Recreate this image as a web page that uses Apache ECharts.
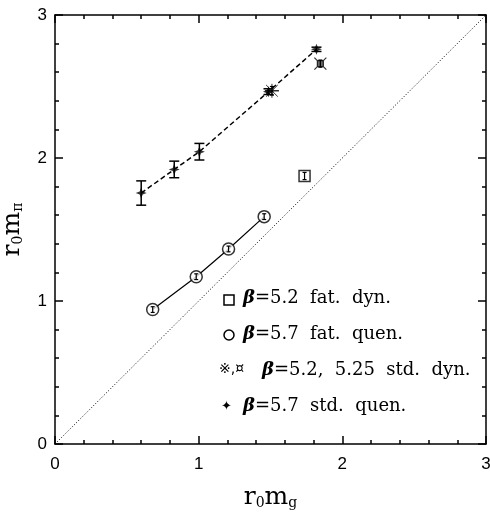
<!DOCTYPE html>
<html>
<head>
<meta charset="utf-8">
<script src="https://cdn.jsdelivr.net/npm/echarts@6/dist/echarts.min.js"></script>
<style>
html,body{margin:0;padding:0;background:#fff;}
#main{width:490px;height:514px;}
</style>
</head>
<body>
<div id="main"></div>
<script>
// beta=5.7 standard quenched (plus markers, dashed line)
var stdQuenX = [0.60, 0.83, 1.005, 1.486, 1.82];
var stdQuenY = [1.755, 1.92, 2.044, 2.464, 2.76];
var stdQuenErr = [0.085, 0.058, 0.058, 0.02, 0.015];
// beta=5.2 / 5.25 standard dynamical
var stdDyn52 = [[1.51, 2.47, 0.03]];
var stdDyn525 = [[1.847, 2.66, 0.025]];
// beta=5.2 fat dynamical
var fatDyn = [[1.737, 1.874, 0.025]];
// beta=5.7 fat quenched
var fatQuenX = [0.68, 0.983, 1.208, 1.456];
var fatQuenY = [0.94, 1.17, 1.364, 1.59];
var fatQuenErr = [0.02, 0.02, 0.02, 0.02];
// diagonal y = x
var diag = [[0, 0], [3, 3]];
var tickVals = [0, 1, 2, 3];

function zip(xs, ys, es) {
	var out = [];
	for (var i = 0; i < xs.length; i++) out.push(es ? [xs[i], ys[i], es[i]] : [xs[i], ys[i]]);
	return out;
}

// I-beam error bars
function makeErr(w, lw) {
	return function (params, api) {
		var x = api.value(0), y = api.value(1), e = api.value(2);
		var t = api.coord([x, y + e]), b = api.coord([x, y - e]);
		var st = { stroke: '#000', lineWidth: lw };
		return {
			type: 'group',
			children: [
				{ type: 'line', shape: { x1: t[0], y1: t[1], x2: b[0], y2: b[1] }, style: st },
				{ type: 'line', shape: { x1: t[0] - w, y1: t[1], x2: t[0] + w, y2: t[1] }, style: st },
				{ type: 'line', shape: { x1: b[0] - w, y1: b[1], x2: b[0] + w, y2: b[1] }, style: st }
			]
		};
	};
}

var serif = '"DejaVu Serif", "Liberation Serif", serif';
var nameRich = {
	r: { fontSize: 25, fontFamily: serif, color: '#000' },
	s: { fontSize: 14, fontFamily: serif, color: '#000', padding: [12, 0, 0, 0] }
};

var axisCommon = {
	min: 0, max: 3, interval: 1,
	axisLine: { show: true, onZero: false, lineStyle: { color: '#000', width: 1.5 } },
	axisTick: { show: true, inside: true, length: 8, lineStyle: { color: '#000', width: 1.5 } },
	minorTick: { show: true, splitNumber: 5, length: 4, lineStyle: { color: '#000', width: 1.5 } },
	splitLine: { show: false },
	axisLabel: {
		color: '#000', fontSize: 17, fontFamily: '"Liberation Sans", Arial, sans-serif',
		formatter: function (v) { return tickVals.indexOf(v) >= 0 ? String(v) : ''; }
	}
};
function ax(extra) { return Object.assign({}, JSON.parse(JSON.stringify(axisCommon)), { axisLabel: axisCommon.axisLabel }, extra); }

function legendText(x, y, label) {
	return {
		type: 'text', left: x, top: y,
		style: {
			text: '{b|β}{t|' + label + '}',
			rich: {
				b: { fontSize: 18, fontFamily: serif, fontWeight: 'bold', fontStyle: 'italic', color: '#000' },
				t: { fontSize: 18, fontFamily: serif, color: '#000' }
			}
		}
	};
}

var chart = echarts.init(document.getElementById('main'));
chart.setOption({
	backgroundColor: '#fff',
	animation: false,
	grid: { left: 55, right: 4, top: 15, bottom: 70, outerBoundsMode: 'none', containLabel: false },
	xAxis: [
		ax({ type: 'value', position: 'bottom', name: '{r|r}{s|0}{r|m}{s|g}', nameLocation: 'middle', nameGap: 40,
			nameTextStyle: { rich: nameRich }, axisLabel: Object.assign({}, axisCommon.axisLabel, { margin: 12 }) }),
		ax({ type: 'value', position: 'top', axisLabel: { show: false } })
	],
	yAxis: [
		ax({ type: 'value', position: 'left', name: '{r|r}{s|0}{r|m}{s|π}', nameLocation: 'middle', nameGap: 30, nameRotate: 90,
			nameTextStyle: { rich: nameRich }, axisLabel: Object.assign({}, axisCommon.axisLabel, { margin: 8 }) }),
		ax({ type: 'value', position: 'right', axisLabel: { show: false } })
	],
	graphic: [
		{ type: 'rect', shape: { x: 224, y: 295, width: 10, height: 10 }, style: { fill: '#fff', stroke: '#000', lineWidth: 1.5 } },
		legendText(243, 289, '=5.2  fat.  dyn.'),
		{ type: 'circle', shape: { cx: 229, cy: 335, r: 5 }, style: { fill: '#fff', stroke: '#000', lineWidth: 1.5 } },
		legendText(243, 325, '=5.7  fat.  quen.'),
		{ type: 'text', left: 219, top: 362, style: { text: '※,¤', fontSize: 14, fontFamily: '"DejaVu Sans"', fill: '#000' } },
		legendText(262, 361, '=5.2,  5.25  std.  dyn.'),
		{ type: 'text', left: 221, top: 400, style: { text: '✦', fontSize: 13, fontFamily: '"DejaVu Sans"', fill: '#000' } },
		legendText(243, 397, '=5.7  std.  quen.')
	],
	series: [
		{
			type: 'line', data: diag, symbol: 'none', silent: true,
			lineStyle: { color: '#000', width: 1, type: [1, 2] }, z: 1
		},
		{
			type: 'line', data: zip(stdQuenX, stdQuenY), symbol: 'none',
			lineStyle: { color: '#000', width: 1.5, type: [5, 3] }, z: 2
		},
		{
			type: 'line', data: zip(fatQuenX, fatQuenY), symbol: 'none',
			lineStyle: { color: '#000', width: 1.2 }, z: 2
		},
		{
			type: 'scatter', data: zip(fatQuenX, fatQuenY), symbol: 'circle', symbolSize: 12,
			itemStyle: { color: '#fff', borderColor: '#000', borderWidth: 1.5 }, z: 3
		},
		{
			type: 'scatter', data: fatDyn, symbol: 'rect', symbolSize: 11,
			itemStyle: { color: '#fff', borderColor: '#000', borderWidth: 1.5 }, z: 3
		},
		{
			type: 'scatter', data: stdDyn52,
			symbol: 'path://M-1,-1L1,1M1,-1L-1,1M0,-1.2L0,1.2M-1.2,0L1.2,0Z',
			symbolSize: 14,
			itemStyle: { color: 'none', borderColor: '#000', borderWidth: 1 }, z: 3
		},
		{
			type: 'scatter', data: stdDyn525,
			symbol: 'path://M-0.5,-0.5H0.5V0.5H-0.5ZM-0.5,-0.5L-1,-1M0.5,-0.5L1,-1M0.5,0.5L1,1M-0.5,0.5L-1,1',
			symbolSize: 12,
			itemStyle: { color: '#444', borderColor: '#000', borderWidth: 1.2 }, z: 3
		},
		{
			type: 'scatter', data: zip(stdQuenX, stdQuenY),
			symbol: 'path://M0,-1L0.28,-0.28L1,0L0.28,0.28L0,1L-0.28,0.28L-1,0L-0.28,-0.28Z',
			symbolSize: 11,
			itemStyle: { color: '#000' }, z: 4
		},
		{ type: 'custom', data: zip(stdQuenX, stdQuenY, stdQuenErr), renderItem: makeErr(5, 1.5), z: 5 },
		{ type: 'custom', data: fatDyn.concat(zip(fatQuenX, fatQuenY, fatQuenErr)), renderItem: makeErr(2, 1.2), z: 5 },
		{ type: 'custom', data: stdDyn52.concat(stdDyn525), renderItem: makeErr(2, 1.2), z: 5 }
	]
});
</script>
</body>
</html>
